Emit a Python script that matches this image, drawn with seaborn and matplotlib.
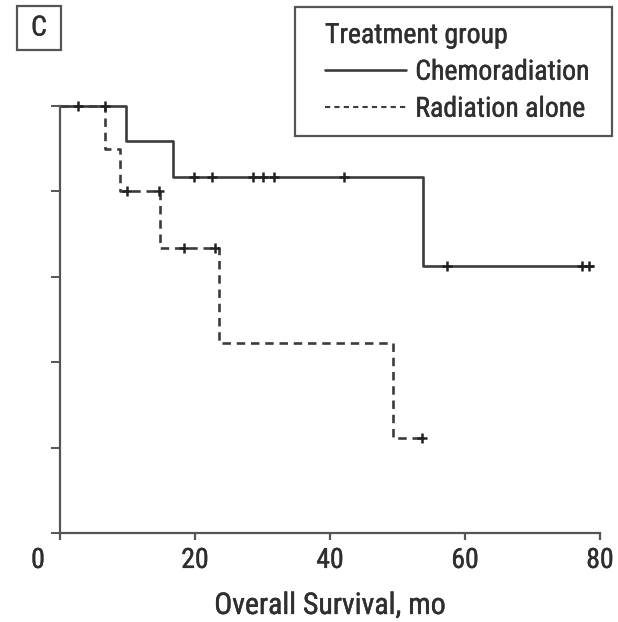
import matplotlib
matplotlib.use("Agg")
import matplotlib.pyplot as plt
import matplotlib.transforms as mtransforms
import matplotlib.patheffects as pe
from matplotlib import font_manager
from matplotlib.lines import Line2D
from matplotlib.patches import Rectangle
import numpy as np
import pandas as pd
import seaborn as sns

# Kaplan-Meier step curves (time in months, survival proportion)
chemo_times = [0, 9.8, 16.7, 53.8, 79.0]
chemo_surv = [1.0, 0.917, 0.833, 0.625, 0.625]
chemo_censored = [2.7, 6.6, 19.9, 22.5, 28.6, 30.1, 31.7, 42.1, 57.3, 77.3, 78.4]

rad_times = [0, 6.7, 8.9, 14.8, 23.5, 49.3, 53.6]
rad_surv = [1.0, 0.9, 0.8, 0.667, 0.444, 0.222, 0.222]
rad_censored = [10.0, 14.7, 18.3, 23.0, 53.6]

groups = ["Chemoradiation", "Radiation alone"]
x_ticks = [0, 20, 40, 60, 80]
y_ticks = [0, 0.2, 0.4, 0.6, 0.8, 1.0]

sns.set_theme(style="ticks")

# prefer a narrow sans face when one is available
installed = {f.name: f for f in font_manager.fontManager.ttflist}
narrow = None
for cand in ["Liberation Sans Narrow", "Roboto Condensed", "Open Sans Condensed",
             "Noto Sans Condensed", "DejaVu Sans Condensed"]:
    if cand in installed:
        narrow = cand
        break
stretch = "normal"
if narrow is None:
    for f in font_manager.fontManager.ttflist:
        if f.name in ("Noto Sans", "Open Sans", "DejaVu Sans") and \
                str(f.stretch) in ("condensed", "semi-condensed", "extra-condensed"):
            narrow = f.name
            stretch = "condensed"
            break
if narrow is None:
    narrow = "Roboto"
plt.rcParams["font.family"] = [narrow, "DejaVu Sans"]
plt.rcParams["font.stretch"] = stretch

INK = "#2f2f2f"
LINE = "#3c3c3c"
AXC = "#555555"
FS = 20
THICK = [pe.withStroke(linewidth=0.3, foreground=INK)]

fig = plt.figure(figsize=(6.18, 6.22), dpi=100)
ax = fig.add_axes([60 / 618, 1 - 533 / 622, 540 / 618, 427 / 622])


def step_value(times, surv, t):
    idx = np.searchsorted(times, t, side="right") - 1
    return surv[max(idx, 0)]


curves = [
    (groups[0], chemo_times, chemo_surv, chemo_censored, "-"),
    (groups[1], rad_times, rad_surv, rad_censored, (0, (3.2, 2.2))),
]

for name, times, surv, cens, ls in curves:
    df = pd.DataFrame({"time": times, "surv": surv})
    sns.lineplot(data=df, x="time", y="surv", ax=ax, estimator=None, sort=False,
                 drawstyle="steps-post", color=LINE, lw=1.9, linestyle=ls,
                 clip_on=False, legend=False)
    cdf = pd.DataFrame({"time": cens,
                        "surv": [step_value(times, surv, c) for c in cens]})
    sns.scatterplot(data=cdf, x="time", y="surv", ax=ax, marker="+", s=55,
                    color="#222222", linewidth=1.8, clip_on=False, zorder=4,
                    legend=False)

ax.set_xlim(0, 80)
ax.set_ylim(0, 1)
ax.set_xticks(x_ticks)
ax.set_xticklabels([str(v) for v in x_ticks])
ax.set_yticks(y_ticks)
ax.set_yticklabels([])
ax.set_ylabel("")
ax.set_xlabel("Overall Survival, mo", fontsize=21.5, color=INK, labelpad=13,
              path_effects=THICK)

for side in ["top", "right"]:
    ax.spines[side].set_visible(False)
for side in ["left", "bottom"]:
    ax.spines[side].set_color(AXC)
    ax.spines[side].set_linewidth(1.6)
ax.tick_params(axis="x", length=5, width=1.6, color=AXC, labelsize=FS,
               labelcolor=INK, pad=5, direction="out")
ax.tick_params(axis="y", length=6.5, width=1.4, color=AXC, direction="out")
for lbl in ax.get_xticklabels():
    lbl.set_path_effects(THICK)

# shift the origin label left of the corner
lbl0 = ax.get_xticklabels()[0]
lbl0.set_transform(lbl0.get_transform() +
                   mtransforms.ScaledTranslation(-0.22, 0, fig.dpi_scale_trans))

# legend text block, framed by a separate rectangle
handles = [Line2D([], [], color=LINE, lw=1.9, linestyle="-"),
           Line2D([], [], color=LINE, lw=1.5, linestyle=(0, (2.5, 2.0)))]
leg = ax.legend(handles, groups, title="Treatment group", loc="upper left",
                bbox_to_anchor=(325 / 618, 1 - 22 / 622),
                bbox_transform=fig.transFigure, frameon=False,
                fontsize=FS, title_fontsize=FS, alignment="left",
                handlelength=2.9, handletextpad=0.35, labelspacing=0.36,
                borderpad=0, borderaxespad=0)
leg.get_title().set_color(INK)
leg.get_title().set_path_effects(THICK)
for t in leg.get_texts():
    t.set_color(INK)
    t.set_path_effects(THICK)
leg._legend_box.sep = 7
fig.patches.append(Rectangle((295 / 618, 1 - 136 / 622), 317 / 618, 129 / 622,
                             transform=fig.transFigure, fill=False, ec=AXC,
                             lw=1.6))

fig.text(39 / 618, 1 - 28 / 622, "C", fontsize=FS, color=INK, ha="center",
         va="center", path_effects=THICK)
fig.patches.append(Rectangle((17 / 618, 1 - 50 / 622), 44 / 618, 44 / 622,
                             transform=fig.transFigure, fill=False, ec=AXC,
                             lw=1.6))

fig.savefig("out.png", dpi=100)
